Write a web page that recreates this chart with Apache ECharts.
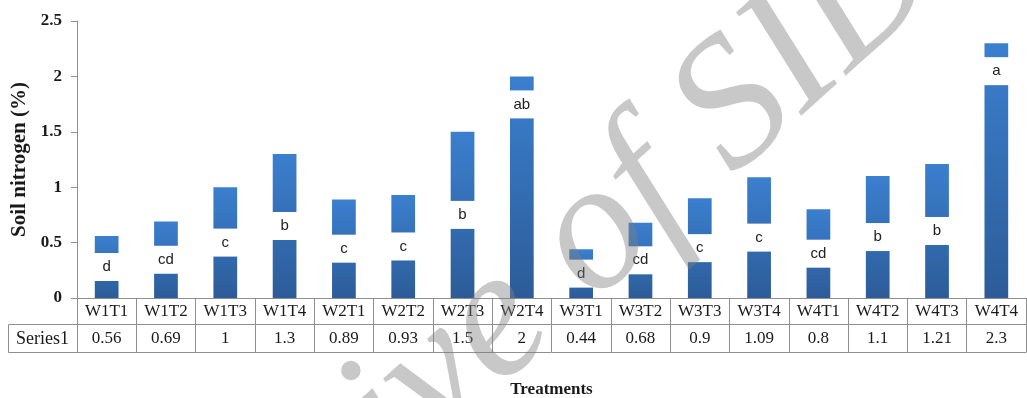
<!DOCTYPE html>
<html>
<head>
<meta charset="utf-8">
<script src="https://cdn.jsdelivr.net/npm/echarts@6/dist/echarts.min.js"></script>
<style>
  html, body { margin: 0; padding: 0; background: #fff; }
  #chart { width: 1027px; height: 398px; }
</style>
</head>
<body>
<div id="chart"></div>
<script>
// Treatment combinations (water level x treatment)
const categories = ['W1T1','W1T2','W1T3','W1T4','W2T1','W2T2','W2T3','W2T4',
                    'W3T1','W3T2','W3T3','W3T4','W4T1','W4T2','W4T3','W4T4'];
// Soil nitrogen (%) per treatment
const nitrogen = [0.56, 0.69, 1, 1.3, 0.89, 0.93, 1.5, 2,
                  0.44, 0.68, 0.9, 1.09, 0.8, 1.1, 1.21, 2.3];
// Mean-separation letters
const groups = ['d','cd','c','b','c','c','b','ab',
                'd','cd','c','c','cd','b','b','a'];
const seriesName = 'Series1';

// layout
const GRID_LEFT = 77, GRID_RIGHT = 1, GRID_TOP = 21, GRID_BOTTOM = 100;
const ROW_H = 26, ROW2_H = 28;
const LINE = '#8f8f8f';
const SERIF = '"Liberation Serif", "Times New Roman", serif';
const TEXT = '#1a1a1a';
const TOP_PLACED = ['W2T4', 'W4T4'];

const chart = echarts.init(document.getElementById('chart'), null, { renderer: 'canvas' });

const barData = nitrogen.map((v, i) => {
  const item = { value: v };
  if (TOP_PLACED.includes(categories[i])) {
    item.label = { position: ['50%', 14], verticalAlign: 'top' };
  }
  return item;
});

const H = 398;
const axisY = H - GRID_BOTTOM;

chart.setOption({
  animation: false,
  backgroundColor: '#fff',
  grid: {
    left: GRID_LEFT, right: GRID_RIGHT, top: GRID_TOP, bottom: GRID_BOTTOM,
    containLabel: false,
    outerBoundsMode: 'none'
  },
  xAxis: [
    {
      type: 'category',
      data: categories,
      position: 'bottom',
      axisLine: { show: true, lineStyle: { color: LINE, width: 1 } },
      axisTick: { show: true, length: ROW_H + ROW2_H, lineStyle: { color: LINE } },
      axisLabel: { margin: 5, fontFamily: SERIF, fontSize: 17, color: TEXT },
      name: 'Treatments',
      nameLocation: 'middle',
      nameGap: 83,
      nameTextStyle: { fontFamily: SERIF, fontWeight: 'bold', fontSize: 17, color: TEXT }
    },
    {
      type: 'category',
      data: nitrogen.map(v => String(v)),
      position: 'bottom',
      offset: ROW_H,
      axisLine: { show: true, lineStyle: { color: LINE, width: 1 } },
      axisTick: { show: false },
      axisLabel: { margin: 6, fontFamily: SERIF, fontSize: 17, color: TEXT }
    },
    {
      type: 'category',
      data: categories,
      position: 'bottom',
      offset: ROW_H + ROW2_H,
      axisLine: { show: true, lineStyle: { color: LINE, width: 1 } },
      axisTick: { show: false },
      axisLabel: { show: false }
    }
  ],
  yAxis: {
    type: 'value',
    min: 0,
    max: 2.5,
    interval: 0.5,
    axisLine: { show: true, lineStyle: { color: LINE, width: 1 } },
    axisTick: { show: true, length: 6, lineStyle: { color: LINE } },
    splitLine: { show: false },
    axisLabel: { margin: 15, fontFamily: SERIF, fontWeight: 'bold', fontSize: 17, color: TEXT },
    name: 'Soil nitrogen (%)',
    nameLocation: 'middle',
    nameRotate: 90,
    nameGap: 43,
    nameTextStyle: { fontFamily: SERIF, fontWeight: 'bold', fontSize: 21, color: TEXT }
  },
  series: [{
    name: seriesName,
    type: 'bar',
    xAxisIndex: 0,
    data: barData,
    barWidth: '40%',
    itemStyle: {
      color: new echarts.graphic.LinearGradient(0, 0, 0, 1, [
        { offset: 0, color: '#3b7fcf' },
        { offset: 1, color: '#2c5c98' }
      ])
    },
    label: {
      show: true,
      position: 'inside',
      formatter: p => groups[p.dataIndex],
      backgroundColor: '#ffffff',
      width: 26,
      height: 28,
      lineHeight: 28,
      align: 'center',
      verticalAlign: 'middle',
      fontFamily: '"Liberation Sans", Arial, sans-serif',
      fontSize: 15,
      color: '#222'
    }
  }],
  graphic: [
    // header cell of the value row
    {
      type: 'rect',
      shape: { x: 8.5, y: axisY + ROW_H + 0.5, width: GRID_LEFT - 8, height: ROW2_H },
      style: { fill: 'none', stroke: LINE, lineWidth: 1 },
      silent: true
    },
    {
      type: 'text',
      x: (8 + GRID_LEFT) / 2,
      y: axisY + ROW_H + ROW2_H / 2 + 1,
      style: {
        text: seriesName,
        font: '18px ' + SERIF,
        fill: TEXT,
        align: 'center',
        verticalAlign: 'middle'
      },
      silent: true
    },
    // archive stamp across the plot
    {
      type: 'text',
      x: 510,
      y: 313,
      rotation: 42 * Math.PI / 180,
      z: 100,
      style: {
        text: 'Archive of SID',
        font: 'italic 184px ' + SERIF,
        fill: 'rgba(128,128,128,0.43)',
        align: 'center',
        verticalAlign: 'middle'
      },
      silent: true
    }
  ]
});
</script>
</body>
</html>
